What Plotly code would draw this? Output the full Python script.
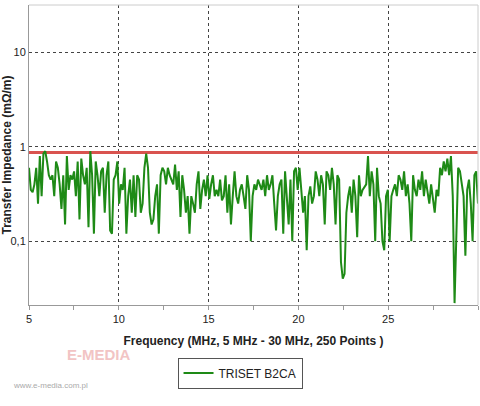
import numpy as np
import plotly.graph_objects as go

# transfer impedance, mOhm/m, 250 points 5-30 MHz
seg1 = [0.6, 0.35, 0.33, 0.4, 0.6, 0.25, 0.8, 0.3, 0.85, 0.9, 0.7, 0.5, 0.45, 0.5, 0.3, 0.7, 0.6, 0.4, 0.22, 0.5,
        0.15, 0.8, 0.35, 0.5, 0.45, 0.55, 0.3, 0.7, 0.17, 0.75, 0.5, 0.4, 0.6, 0.14, 0.9, 0.5, 0.12, 0.7, 0.5, 0.3,
        0.55, 0.6, 0.2, 0.5, 0.7, 0.13, 0.12, 0.45, 0.5, 0.7]
seg2 = [0.25, 0.4, 0.35, 0.6, 0.12, 0.3, 0.45, 0.2, 0.5, 0.18, 0.5, 0.45, 0.2, 0.25, 0.6, 0.85, 0.6, 0.2, 0.15, 0.17,
        0.3, 0.4, 0.12, 0.5, 0.6, 0.55, 0.4, 0.6, 0.5, 0.45, 0.4, 0.65, 0.35, 0.55, 0.18, 0.5, 0.35, 0.2, 0.3, 0.12,
        0.3, 0.25, 0.2, 0.4, 0.55, 0.22, 0.35, 0.45, 0.3, 0.5]
seg3 = [0.28, 0.4, 0.5, 0.3, 0.35, 0.3, 0.45, 0.27, 0.3, 0.5, 0.2, 0.4, 0.15, 0.3, 0.55, 0.3, 0.25, 0.35, 0.4, 0.3,
        0.22, 0.5, 0.35, 0.1, 0.3, 0.4, 0.35, 0.45, 0.4, 0.35, 0.45, 0.3, 0.5, 0.35, 0.4, 0.5, 0.25, 0.13, 0.3, 0.4,
        0.45, 0.12, 0.55, 0.3, 0.15, 0.45, 0.1, 0.55, 0.6, 0.35]
seg4 = [0.6, 0.35, 0.2, 0.3, 0.08, 0.3, 0.38, 0.25, 0.3, 0.55, 0.45, 0.3, 0.5, 0.4, 0.15, 0.55, 0.5, 0.35, 0.6, 0.4,
        0.15, 0.5, 0.45, 0.06, 0.04, 0.045, 0.2, 0.3, 0.38, 0.2, 0.45, 0.3, 0.11, 0.5, 0.3, 0.35, 0.38, 0.4, 0.8, 0.3,
        0.55, 0.4, 0.1, 0.6, 0.3, 0.25, 0.1, 0.08, 0.3, 0.35]
seg5 = [0.1, 0.3, 0.35, 0.4, 0.3, 0.5, 0.45, 0.35, 0.55, 0.3, 0.4, 0.25, 0.1, 0.5, 0.35, 0.3, 0.45, 0.35, 0.55, 0.3,
        0.45, 0.35, 0.25, 0.4, 0.3, 0.2, 0.35, 0.3, 0.6, 0.5, 0.7, 0.55, 0.75, 0.5, 0.8, 0.3, 0.022, 0.1, 0.6, 0.55,
        0.4, 0.3, 0.07, 0.35, 0.45, 0.25, 0.1, 0.5, 0.55, 0.25]
impedance = seg1 + seg2 + seg3 + seg4 + seg5
freq = np.linspace(5, 30, len(impedance))
limit = 0.87

fig = go.Figure()
fig.add_trace(go.Scatter(x=[5, 30], y=[limit, limit], mode='lines', line=dict(color='#d9534f', width=3),
                         showlegend=False, hoverinfo='skip'))
fig.add_trace(go.Scatter(x=freq, y=impedance, mode='lines', name='TRISET B2CA',
                         line=dict(color='#1e8a16', width=2)))

font = dict(family='Liberation Sans, Arial', size=11, color='#222')
fig.update_layout(
    width=480, height=406, margin=dict(l=29, r=2, t=5, b=101),
    paper_bgcolor='white', plot_bgcolor='white', font=font,
    legend=dict(orientation='h', x=0.47, y=-0.175, xanchor='center', yanchor='top',
                bordercolor='#555', borderwidth=1, font=dict(size=12)),
    xaxis=dict(range=[5, 30], dtick=5, showgrid=True, gridcolor='#444', griddash='dot', gridwidth=1,
               showline=True, linecolor='#999', ticks='outside', ticklen=4, tickcolor='#999', automargin=False,
               minor=dict(dtick=2.5, ticks='outside', ticklen=4, tickcolor='#999'),
               title=dict(text='<b>Frequency (MHz, 5 MHz - 30 MHz, 250 Points )</b>', font=dict(size=12), standoff=12),
               tickfont=dict(size=11)),
    yaxis=dict(type='log', range=[np.log10(0.021), np.log10(32)], tickvals=[0.1, 1, 10], ticktext=['0,1', '1', '10'],
               showgrid=True, gridcolor='#444', griddash='dot', gridwidth=1, showline=True, linecolor='#999',
               automargin=False, title=dict(text='<b>Transfer Impedance (mΩ/m)</b>', font=dict(size=12), standoff=2),
               tickfont=dict(size=11)),
)
fig.add_shape(type='line', xref='paper', yref='paper', x0=0, x1=1, y0=1, y1=1, line=dict(color='#ccc', width=1))
fig.add_shape(type='line', xref='paper', yref='paper', x0=1, x1=1, y0=0, y1=1, line=dict(color='#ccc', width=1))
fig.add_annotation(text='<b>E-MEDIA</b>', xref='paper', yref='paper', x=0.08, y=-0.2, showarrow=False,
                   font=dict(size=15, color='#f2c4c4'))
fig.add_annotation(text='www.e-media.com.pl', xref='paper', yref='paper', x=-0.04, y=-0.29, xanchor='left',
                   showarrow=False, font=dict(size=8, color='#aaa'))
fig.write_html("out.html", config={'displayModeBar': False}, post_script="document.body.style.margin='0';")
